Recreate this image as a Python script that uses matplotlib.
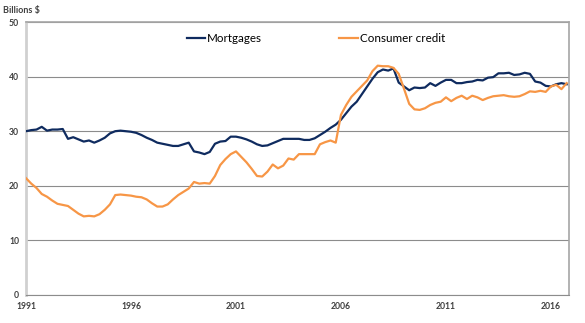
import numpy as np
import matplotlib
matplotlib.use("Agg")
from matplotlib import pyplot as plt

plt.rcParams['font.family'] = ['Lato', 'DejaVu Sans']

# quarterly series, 1991 Q1 to 2016 Q4, billions of dollars
start_year = 1991
mortgages = [
    30.0, 30.2, 30.3, 30.8, 30.1, 30.3, 30.3, 30.4,
    28.6, 28.9, 28.5, 28.1, 28.3, 27.9, 28.3, 28.8,
    29.6, 30.0, 30.1, 30.0, 29.9, 29.7, 29.3, 28.8,
    28.4, 27.9, 27.7, 27.5, 27.3, 27.3, 27.6, 27.9,
    26.3, 26.1, 25.8, 26.2, 27.7, 28.1, 28.2, 29.0,
    29.0, 28.8, 28.5, 28.1, 27.6, 27.3, 27.4, 27.8,
    28.2, 28.6, 28.6, 28.6, 28.6, 28.4, 28.4, 28.7,
    29.3, 29.9, 30.6, 31.2, 32.1, 33.3, 34.5, 35.4,
    36.8, 38.2, 39.6, 40.8, 41.3, 41.1, 41.5, 38.9,
    38.2, 37.5, 38.0, 37.9, 38.0, 38.8, 38.3, 38.9,
    39.4, 39.4, 38.8, 38.8, 39.0, 39.1, 39.4, 39.3,
    39.8, 39.9, 40.6, 40.6, 40.7, 40.3, 40.4, 40.7,
    40.5, 39.1, 38.9, 38.3, 38.2, 38.6, 38.8, 38.6,
]
consumer_credit = [
    21.4, 20.4, 19.6, 18.5, 18.0, 17.3, 16.7, 16.5,
    16.3, 15.6, 14.9, 14.4, 14.5, 14.4, 14.8, 15.6,
    16.6, 18.3, 18.4, 18.3, 18.2, 18.0, 17.9, 17.5,
    16.8, 16.2, 16.2, 16.6, 17.5, 18.3, 18.9, 19.5,
    20.7, 20.4, 20.5, 20.4, 21.8, 23.8, 24.9, 25.8,
    26.3, 25.3, 24.3, 23.1, 21.8, 21.7, 22.6, 23.9,
    23.2, 23.7, 25.0, 24.8, 25.8, 25.8, 25.8, 25.8,
    27.6, 28.0, 28.3, 27.9, 33.0, 34.8, 36.3, 37.3,
    38.3, 39.3, 41.0, 42.0, 41.9, 41.9, 41.6, 40.5,
    37.8, 35.0, 34.0, 33.9, 34.2, 34.8, 35.2, 35.4,
    36.2, 35.5, 36.1, 36.5, 35.9, 36.5, 36.2, 35.7,
    36.1, 36.4, 36.5, 36.6, 36.4, 36.3, 36.4, 36.8,
    37.3, 37.2, 37.4, 37.2, 38.2, 38.5, 37.7, 38.8,
]
year_ticks = [1991, 1996, 2001, 2006, 2011, 2016]
value_ticks = [0, 10, 20, 30, 40, 50]

quarters = start_year + np.arange(len(mortgages)) / 4.0

fig = plt.figure(figsize=(5.85, 3.23), dpi=100)
ax = fig.add_axes([26 / 585, 28 / 323, 543 / 585, 273 / 323])

ax.plot(quarters, mortgages, color='#0f2b5f', lw=1.6, label='Mortgages', zorder=3)
ax.plot(quarters, consumer_credit, color='#f79646', lw=1.6, label='Consumer credit', zorder=3)

ax.set_xlim(1991, 2016.86)
ax.set_ylim(0, 50)
ax.set_xticks(year_ticks)
ax.set_yticks(value_ticks)
ax.tick_params(length=0, labelsize=6.2, labelcolor='#404040', pad=5)
for lab in ax.get_xticklabels() + ax.get_yticklabels():
    lab.set_fontweight('bold')

ax.grid(axis='y', color='#8c8c8c', lw=0.8)
ax.set_axisbelow(True)
for side in ['top', 'right']:
    ax.spines[side].set_color('#a6a6a6')
    ax.spines[side].set_linewidth(1.2)
ax.spines['left'].set_color('#d0d0d0')
ax.spines['left'].set_linewidth(2.0)
ax.spines['bottom'].set_color('#8c8c8c')
ax.spines['bottom'].set_linewidth(0.8)

fig.text(3 / 585, 1 - 10 / 323, 'Billions $', fontsize=6.5, fontweight='bold',
         color='#404040', va='center', ha='left')

ax.legend(loc='center left', bbox_to_anchor=(156 / 543, 1 - 17 / 273), ncol=2,
          frameon=False, fontsize=8.4, handlelength=1.6, handletextpad=0.15,
          columnspacing=6.6, borderaxespad=0)

fig.savefig('out.png', dpi=100)
